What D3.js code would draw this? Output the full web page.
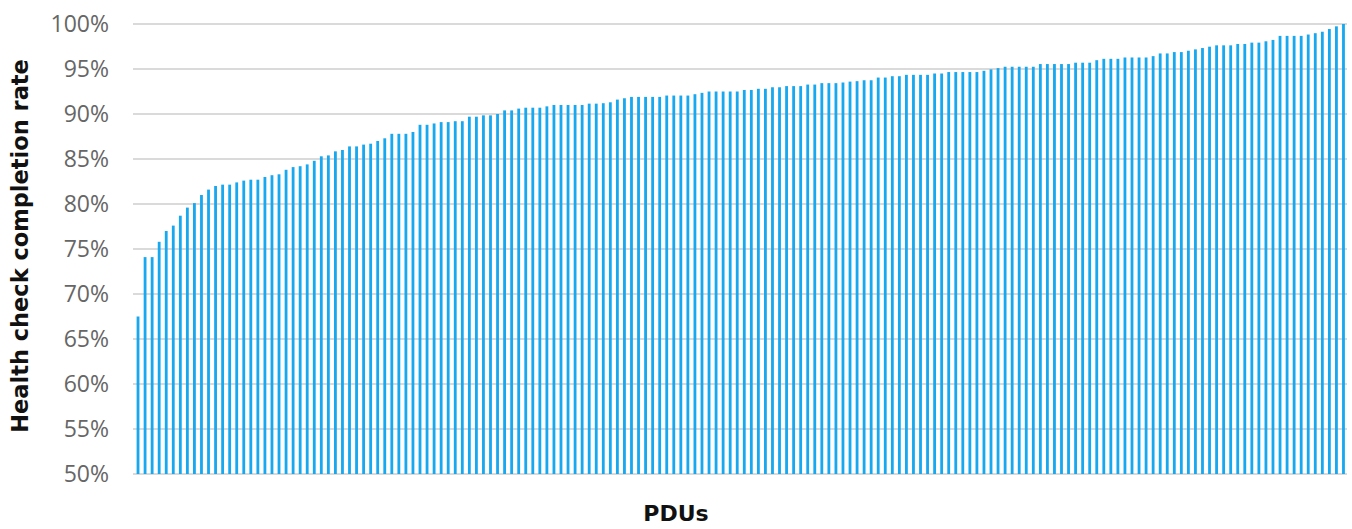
<!DOCTYPE html>
<html>
<head>
<meta charset="utf-8">
<script src="https://cdn.jsdelivr.net/npm/d3@7"></script>
<style>
  body { margin: 0; background: #fff; }
  svg { display: block; }
</style>
</head>
<body>
<div id="chart"></div>
<script>
// completion rate per PDU (%), sorted ascending
const rates = [
  67.5, 74.1, 74.1, 75.8, 77.0, 77.6, 78.7, 79.6, 80.1, 81.0,
  81.6, 82.0, 82.15, 82.15, 82.4, 82.6, 82.7, 82.7, 83.0, 83.2,
  83.3, 83.8, 84.1, 84.2, 84.4, 84.8, 85.3, 85.4, 85.85, 86.0,
  86.4, 86.4, 86.6, 86.7, 87.0, 87.3, 87.8, 87.8, 87.8, 88.0,
  88.8, 88.8, 88.95, 89.1, 89.1, 89.2, 89.2, 89.7, 89.7, 89.85,
  89.85, 90.0, 90.4, 90.4, 90.6, 90.7, 90.7, 90.7, 90.85, 91.0,
  91.0, 91.0, 91.0, 91.0, 91.15, 91.15, 91.2, 91.3, 91.6, 91.75,
  91.9, 91.9, 91.9, 91.9, 91.9, 92.05, 92.05, 92.05, 92.05, 92.2,
  92.35, 92.5, 92.5, 92.5, 92.5, 92.5, 92.67, 92.67, 92.8, 92.8,
  92.97, 92.97, 93.1, 93.1, 93.1, 93.27, 93.27, 93.43, 93.43, 93.43,
  93.5, 93.6, 93.65, 93.75, 93.75, 94.05, 94.05, 94.2, 94.2, 94.35,
  94.35, 94.35, 94.35, 94.5, 94.5, 94.66, 94.66, 94.66, 94.66, 94.66,
  94.8, 94.96, 95.1, 95.25, 95.25, 95.25, 95.25, 95.25, 95.55, 95.55,
  95.55, 95.55, 95.55, 95.7, 95.7, 95.7, 95.98, 96.13, 96.13, 96.13,
  96.28, 96.28, 96.28, 96.28, 96.43, 96.73, 96.73, 96.88, 96.88, 97.03,
  97.18, 97.33, 97.48, 97.63, 97.63, 97.63, 97.78, 97.78, 97.93, 97.93,
  98.08, 98.23, 98.68, 98.68, 98.68, 98.68, 98.83, 98.98, 99.14, 99.44,
  99.74, 100
];
const pdus = rates.map((d, i) => "PDU " + (i + 1));
const yTicks = [50, 55, 60, 65, 70, 75, 80, 85, 90, 95, 100];

const width = 1352, height = 529;
const margin = { top: 24, right: 5, bottom: 55, left: 133 };

const svg = d3.select("#chart")
  .append("svg")
  .attr("width", width)
  .attr("height", height);

const x = d3.scaleBand()
  .domain(pdus)
  .range([margin.left + 1.5, width - margin.right])
  .paddingInner(0.6)
  .paddingOuter(0.3);

const y = d3.scaleLinear()
  .domain([50, 100])
  .range([height - margin.bottom, margin.top]);

// gridlines
svg.append("g")
  .selectAll("line")
  .data(yTicks)
  .join("line")
  .attr("x1", margin.left)
  .attr("x2", width - margin.right)
  .attr("y1", d => y(d))
  .attr("y2", d => y(d))
  .attr("stroke", "#dadada")
  .attr("stroke-width", 2);

// y axis labels
const yAxis = svg.append("g")
  .attr("transform", `translate(${margin.left - 24},0)`)
  .call(d3.axisLeft(y).tickValues(yTicks).tickSize(0).tickFormat(d => d + "%"));
yAxis.select(".domain").remove();
yAxis.selectAll("text")
  .attr("x", 0)
  .attr("fill", "#666")
  .style("font-family", "'Open Sans', sans-serif")
  .style("font-size", "23px");

// bars
svg.append("g")
  .selectAll("rect")
  .data(rates)
  .join("rect")
  .attr("x", (d, i) => x(pdus[i]))
  .attr("y", d => y(d))
  .attr("width", x.bandwidth())
  .attr("height", d => y(50) - y(d))
  .attr("fill", "#18a8f0");

// axis titles
svg.append("text")
  .attr("transform", `translate(28,${(margin.top + height - margin.bottom) / 2 - 3}) rotate(-90)`)
  .attr("text-anchor", "middle")
  .style("font-family", "'DejaVu Sans', sans-serif")
  .style("font-weight", "bold")
  .style("font-size", "22.5px")
  .attr("fill", "#111")
  .text("Health check completion rate");

svg.append("text")
  .attr("x", width / 2)
  .attr("y", 521)
  .attr("text-anchor", "middle")
  .style("font-family", "'DejaVu Sans', sans-serif")
  .style("font-weight", "bold")
  .style("font-size", "22px")
  .attr("fill", "#111")
  .text("PDUs");
</script>
</body>
</html>
